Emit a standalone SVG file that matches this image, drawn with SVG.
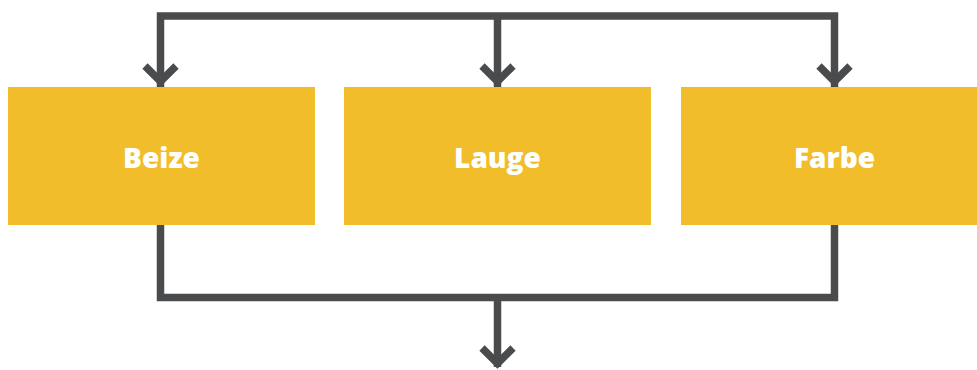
<svg xmlns="http://www.w3.org/2000/svg" width="977" height="370" viewBox="0 0 977 370">
<style>
.box{fill:#f2bd2a}
.lbl{font-family:"Open Sans","Noto Sans",sans-serif;font-weight:800;font-size:28px;fill:#fff;text-anchor:middle}
.ln{fill:none;stroke:#4a4b4d;stroke-width:7.5;stroke-linejoin:miter;stroke-linecap:butt}
</style>
<rect width="977" height="370" fill="#fff"/>
<g id="connectors">
<path class="ln" d="M160.5,87 V16 H834.5 V87 M497.5,16 V87"/>
<path class="ln" d="M145,66 L160.5,81.5 L176,66 M482,66 L497.5,81.5 L513,66 M819,66 L834.5,81.5 L850,66"/>
<path class="ln" d="M160.5,225 V297.5 H834.5 V225 M497.5,297.5 V367"/>
<path class="ln" d="M482,348 L497.5,363.5 L513,348"/>
</g>
<g id="beize"><rect class="box" x="8" y="87" width="307" height="138"/><text class="lbl" x="161.5" y="168">Beize</text></g>
<g id="lauge"><rect class="box" x="344" y="87" width="307" height="138"/><text class="lbl" x="497.5" y="168">Lauge</text></g>
<g id="farbe"><rect class="box" x="681" y="87" width="307" height="138"/><text class="lbl" x="834.5" y="168">Farbe</text></g>
</svg>
